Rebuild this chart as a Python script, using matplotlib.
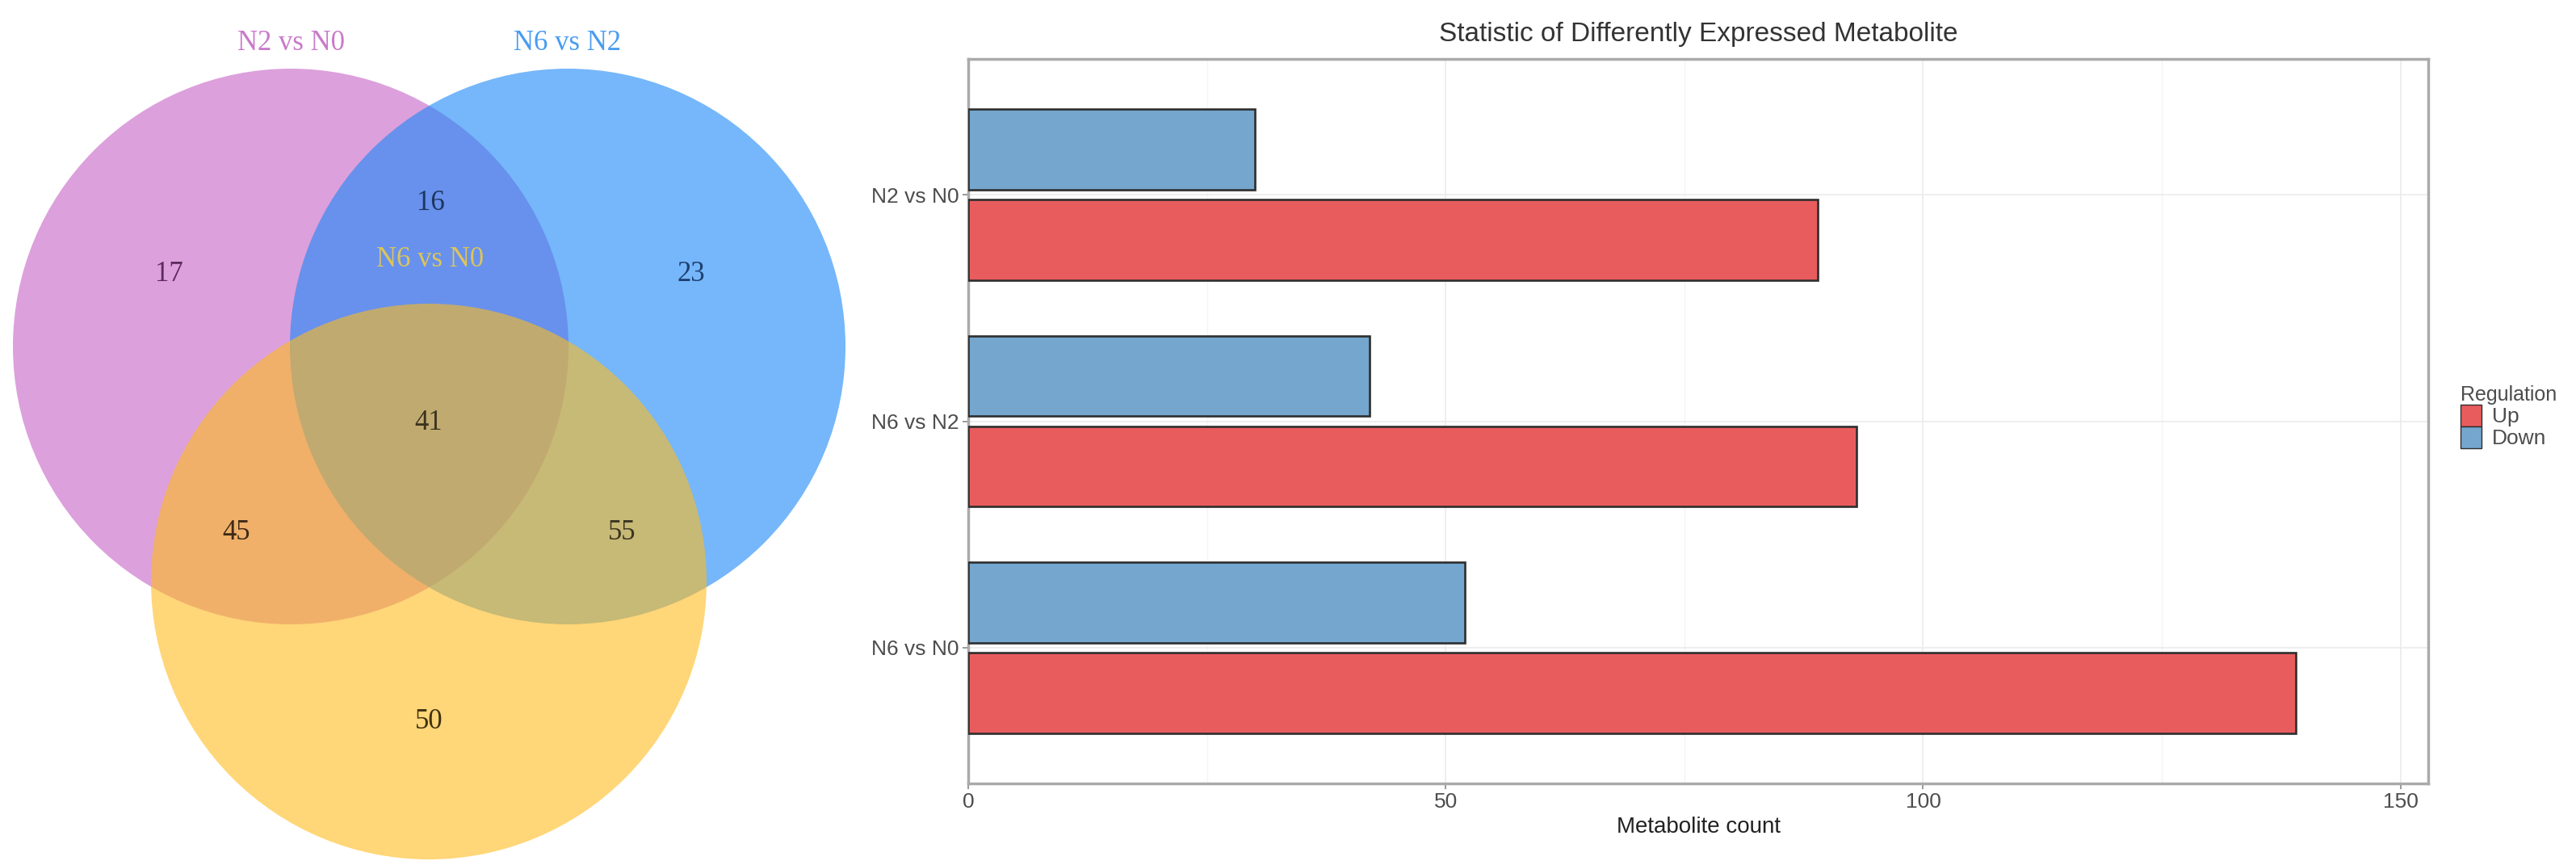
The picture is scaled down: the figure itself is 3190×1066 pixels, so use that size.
import numpy as np
import matplotlib
matplotlib.use('Agg')
import matplotlib.pyplot as plt
from matplotlib.patches import Circle, Patch

# venn data (three comparisons)
venn_names = ['N2 vs N0', 'N6 vs N2', 'N6 vs N0']
only_a, only_b, only_c = 17, 23, 50
ab, ac, bc, abc = 16, 45, 55, 41

# bar data
groups = ['N2 vs N0', 'N6 vs N2', 'N6 vs N0']
up_counts = [89, 93, 139]
down_counts = [30, 42, 52]

W, H = 3190, 1066
fig = plt.figure(figsize=(W / 100, H / 100), dpi=100, facecolor='white')

# ---------- venn ----------
axv = fig.add_axes([0, 0, 1100 / W, 1])
axv.set_xlim(0, 1100)
axv.set_ylim(1066, 0)
axv.axis('off')

r = 344
centers = [(360, 429), (703, 429), (531, 720)]
fills = ['#c661c6', '#1987f7', '#ffbc1e']
for (cx, cy), c in zip(centers, fills):
    axv.add_patch(Circle((cx, cy), r, facecolor=c, edgecolor='none', alpha=0.6))

serif = ['Liberation Serif', 'DejaVu Serif']
fs = 25
name_pos = [(361, 53), (702, 53), (533, 321)]
name_col = ['#c97ac9', '#4a9cf0', '#dcc45c']
for name, (x, y), c in zip(venn_names, name_pos, name_col):
    axv.text(x, y, name, ha='center', va='center', fontsize=fs, color=c, family=serif)

counts = [only_a, ab, only_b, abc, ac, bc, only_c]
cpos = [(209, 339), (533, 251), (856, 339), (531, 523), (293, 660), (770, 660), (531, 893)]
ccol = ['#5e2b5e', '#1e3560', '#1f3f70', '#3b3320', '#3f2a15', '#3a3520', '#3f3010']
for n, (x, y), c in zip(counts, cpos, ccol):
    axv.text(x, y, str(n), ha='center', va='center', fontsize=fs, color=c, family=serif)

# ---------- bar chart ----------
sans = ['Liberation Sans', 'DejaVu Sans']
ax = fig.add_axes([1199 / W, 1 - 970 / H, (3007 - 1199) / W, (970 - 73) / H])
ypos = np.array([3, 2, 1])
bh = 0.355
red = '#e95c5e'
blue = '#74a6ce'
edge = '#2e2e2e'
ax.barh(ypos - 0.2, up_counts, height=bh, color=red, edgecolor=edge, linewidth=1.9, zorder=3)
ax.barh(ypos + 0.2, down_counts, height=bh, color=blue, edgecolor=edge, linewidth=1.9, zorder=3)

ax.set_xlim(0, 152.9)
ax.set_ylim(0.4, 3.6)
ax.set_xticks([0, 50, 100, 150])
ax.set_xticks([25, 75, 125], minor=True)
ax.set_yticks(ypos)
ax.set_yticklabels(groups)
ax.grid(which='major', color='#ebebeb', linewidth=1.2, zorder=0)
ax.grid(which='minor', axis='x', color='#f4f4f4', linewidth=1.0, zorder=0)
ax.tick_params(which='minor', length=0)
ax.tick_params(which='major', length=5, width=1.2, color='#888888', labelsize=19,
               labelcolor='#4d4d4d', pad=3)
for lab in ax.get_xticklabels() + ax.get_yticklabels():
    lab.set_family(sans)
for s in ax.spines.values():
    s.set_color('#aaaaaa')
    s.set_linewidth(2.5)

ax.set_title('Statistic of Differently Expressed Metabolite', fontsize=24, color='#333333',
             family=sans, pad=16)
ax.set_xlabel('Metabolite count', fontsize=20, color='#222222', family=sans, labelpad=4)

handles = [Patch(facecolor=red, edgecolor=edge, label='Up'),
           Patch(facecolor=blue, edgecolor=edge, label='Down')]
leg = fig.legend(handles=handles, title='Regulation', loc='upper left',
                 bbox_to_anchor=(3036 / W, 1 - 466 / H), frameon=False,
                 prop={'family': sans, 'size': 19}, title_fontproperties={'family': sans, 'size': 18},
                 handlelength=1.0, handleheight=1.2, labelspacing=0.0, handletextpad=0.5,
                 borderaxespad=0, alignment='left', labelcolor='#4d4d4d')
leg.get_title().set_color('#4d4d4d')

fig.savefig('out.png', dpi=100, facecolor='white')
